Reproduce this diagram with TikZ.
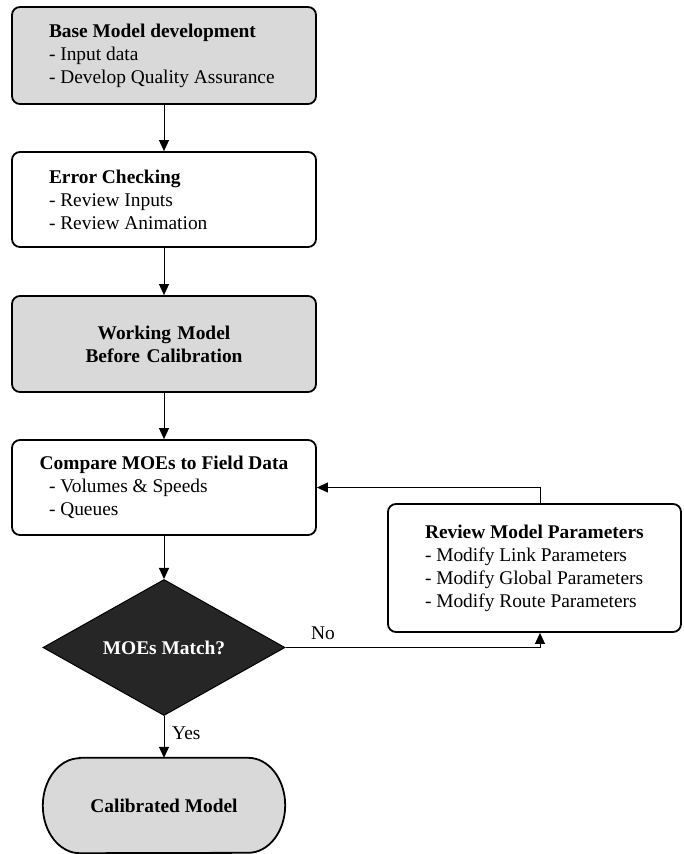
\documentclass[tikz,border=0pt]{standalone}
\usepackage{fontspec}
\setmainfont{Liberation Serif}
\usetikzlibrary{arrows.meta,shapes.geometric,backgrounds,calc}
\newcommand{\bxtext}[2]{\begin{minipage}{#1}\raggedright\parindent=0pt\leftskip=37pt\relax #2\end{minipage}}
\begin{document}
\begin{tikzpicture}[x=1pt,y=1pt,
  every node/.style={font=\fontsize{19.4}{23}\selectfont},
  box/.style={draw=black, line width=1.8pt, rounded corners=8pt, inner xsep=0pt, inner ysep=0pt},
  gbox/.style={box, fill=gray!30},
  conn/.style={line width=1pt, -{Triangle[length=11pt,width=10pt]}},
  lbl/.style={inner sep=0pt, anchor=west}]
\useasboundingbox (0,0) rectangle (683,-854);

\node[gbox, minimum width=304pt, minimum height=97pt] (b1) at (164,-55.5)
  {\bxtext{304pt}{\textbf{Base Model development}\\- Input data\\- Develop Quality Assurance}};
\node[box, minimum width=304pt, minimum height=95pt] (b2) at (164,-199.5)
  {\bxtext{304pt}{\textbf{Error Checking}\\- Review Inputs\\- Review Animation}};
\node[gbox, text width=304pt, minimum height=96pt, align=center] (b3) at (164,-344)
  {\textbf{Working Model}\\\textbf{Before Calibration}};
\node[box, minimum width=304pt, minimum height=95pt] (b4) at (164,-487.5)
  {\bxtext{304pt}{\makebox[230pt]{\textbf{Compare MOEs to Field Data}}\\- Volumes \& Speeds\\- Queues}};
\node[diamond, draw=black, fill=black!85, line width=1pt, minimum width=242pt, minimum height=129pt, inner sep=0pt, text=white] (dia) at (164,-647.5)
  {\textbf{MOEs Match?}};
\node[minimum width=242pt, minimum height=95pt, inner sep=0pt] (cal) at (164,-805.5)
  {\textbf{Calibrated Model}};
\begin{scope}[on background layer]
\draw[line width=1.8pt, fill=gray!30]
  ($(cal.north west)+(37,0)$) -- ($(cal.north east)+(-37,0)$)
  arc[start angle=90, end angle=-90, x radius=37, y radius=47.5]
  -- ($(cal.south west)+(37,0)$)
  arc[start angle=270, end angle=90, x radius=37, y radius=47.5] -- cycle;
\end{scope}
\node[box, minimum width=293pt, minimum height=128pt] (rev) at (534.5,-568)
  {\bxtext{293pt}{\textbf{Review Model Parameters}\\- Modify Link Parameters\\- Modify Global Parameters\\- Modify Route Parameters}};

\coordinate (rx) at (540,0);

\draw[conn] (b1.south) -- (b2.north);
\draw[conn] (b2.south) -- (b3.north);
\draw[conn] (b3.south) -- (b4.north);
\draw[conn] (b4.south) -- (dia.north);
\draw[conn] (dia.south) -- (cal.north);
\draw[conn] (dia.east) -- (dia.east -| rx) -- (rev.south -| rx);
\draw[conn] (rev.north -| rx) |- (b4.east);

\node[lbl] (yes) at (172,-733) {Yes};
\node[lbl] (no) at (311,-633) {No};
\end{tikzpicture}
\end{document}
